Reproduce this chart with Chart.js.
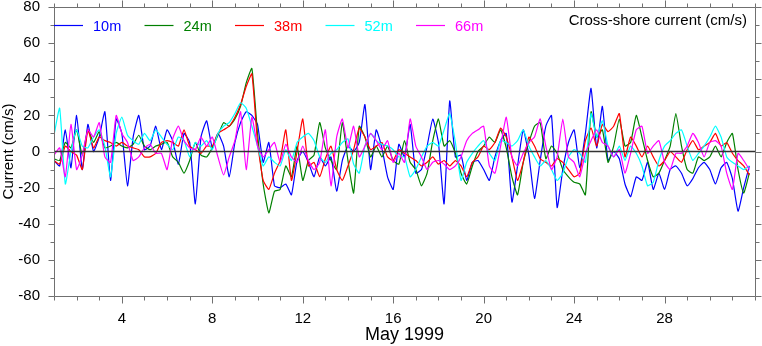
<!DOCTYPE html>
<html><head><meta charset="utf-8">
<script src="https://cdn.jsdelivr.net/npm/chart.js@4"></script>
<style>html,body{margin:0;padding:0;background:#fff}#wrap{width:762px;height:346px}</style>
</head><body><div id="wrap"><canvas id="c" width="762" height="346"></canvas></div>
<script>
// ---- data (cm/s), sampled every 6 hours starting 1 May 1999 00:00 ----
const startDay = 1;
const samplesPerDay = 4;
const seriesLabels = ['10m', '24m', '38m', '52m', '66m'];
const seriesColors = ['#0000ff', '#008000', '#ff0000', '#00ffff', '#ff00ff'];
const current10m = [-5,-8,12,-9, 20,-10,15,0, 8,22,-16,18, 10,-19,8,20, 1,3,14,1, 12,6,-7,10, 5,-29,8,17, 2,10,3,-14, 5,16,22,20, 15,-6,5,-19, -20,-18,-24,-5, 0,-6,-14,-3, -8,-3,-22,-5, 3,0,5,26, -10,12,2,-14, -21,4,-3,15, -12,-10,3,18, 5,-29,28,-3, -2,-16,-6,-5, -10,-16,-3,6, 10,-28,-8,12, -2,-26,-5,14, 20,-31,-10,5, 12,-9,10,35, 2,25,-5,0, -4,-18,-25,-14, -16,-6,-21,-12, -21,-10,-8,-12, -19,-15,-9,-6, -10,-18,-9,-6, -15,-33,-20,-8];
const current24m = [-4,-5,5,2, 12,-2,12,5, 11,2,3,5, 3,2,4,9, 3,1,3,4, 5,-3,-6,-12, -5,5,-2,-3, 2,9,16,14, 18,25,38,46, 10,-18,-34,-22, -21,-8,-14,3, -16,-5,-2,16, 2,-5,-10,16, -5,-23,14,8, -3,3,-3,3, -5,-7,6,-6, -10,-19,-12,6, 18,3,6,-1, -12,-18,-8,0, 3,8,5,12, 2,-14,-24,-6, 5,14,16,-4, 3,-1,-10,-14, -17,-18,-24,22, 8,12,-6,3, 18,3,5,20, 8,-5,-14,-12, -5,3,21,3, -10,-12,-3,-5, -3,3,-3,5, 10,-10,-23,-12];
const current38m = [-5,-7,3,0, -2,-10,12,2, 8,6,5,3, 5,3,2,1, -3,-3,-1,5, 6,5,3,12, 3,1,-1,3, 3,10,12,14, 19,26,36,43, 5,-16,-21,-12, -5,12,-16,0, 18,-8,-6,-14, -4,3,-10,-16, -8,1,13,8, 1,3,5,-3, -5,1,-1,-3, -5,-8,-6,-3, -7,-5,-8,-5, -8,-14,-6,-3, 3,1,5,13, 8,-3,-16,-6, 8,3,-4,-6, -8,-4,-6,-10, -14,-12,6,13, 3,15,11,14, 21,-3,8,3, -3,3,-3,-8, -5,0,-3,-6, 1,6,1,3, 5,10,3,5, -1,-5,-8,-13];
const current52m = [9,24,-18,0, 12,3,2,8, 12,3,-14,10, 19,9,6,4, 10,6,12,8, 4,1,8,6, -3,5,3,6, 1,10,14,16, 21,27,24,14, 3,-8,-3,-6, -8,1,-5,5, 8,10,6,-3, -6,-1,1,5, 7,-7,-12,3, 10,6,4,3, 1,-3,-3,-14, -10,-3,3,5, 3,12,21,5, -16,-6,-1,3, 6,-1,-5,6, 5,3,6,12, 3,-3,-8,-5, -10,-16,-12,-3, 1,-1,-6,21, 8,17,3,-3, 3,-5,3,-1, -8,-19,-17,-5, 3,6,10,12, 3,-5,-1,3, 8,14,8,-3, -6,-8,-10,-8];
const current66m = [-2,2,-14,15, -10,-2,12,8, 16,-3,-6,20, 10,5,-5,-3, 2,4,-1,-1, -10,7,14,6, 2,1,8,3, 8,-3,-13,-3, 6,22,-10,19, 3,-3,1,5, -6,4,-3,-6, 3,-5,-10,-6, 12,-19,8,18, 2,14,-3,3, 10,6,1,6, -6,-1,-6,18, 3,-3,-10,-6, -5,-7,-10,-8, -3,6,10,12, 14,-8,-12,3, 19,-3,-8,-1, 5,8,18,3, -10,-3,18,-3, -6,-14,-1,6, 12,5,3,-3, 1,-12,-1,12, 14,-1,3,6, -6,-10,-1,-1, 3,10,5,-3, 5,6,3,-12, -21,-1,-5,-10];
const xTickLabels = [4, 8, 12, 16, 20, 24, 28];
const yTickLabels = [-80, -60, -40, -20, 0, 20, 40, 60, 80];
const xTitle = 'May 1999';
const yTitle = 'Current (cm/s)';
const panelTitle = 'Cross-shore current (cm/s)';

const FONT = "'Liberation Sans', Arial, Helvetica, sans-serif";
const allSeries = [current10m, current24m, current38m, current52m, current66m];
const datasets = allSeries.map((vals, i) => ({
  label: seriesLabels[i],
  data: vals.map((v, k) => ({ x: startDay + k / samplesPerDay, y: v })),
  borderColor: seriesColors[i],
  backgroundColor: seriesColors[i],
  borderWidth: 1.2,
  pointRadius: 0,
  tension: 0.15,
  fill: false,
  order: allSeries.length - i
}));

const AXIS = '#707070';
const framePlugin = {
  id: 'frame',
  afterDatasetsDraw(chart) {
    const { ctx, chartArea: a, scales: { x, y } } = chart;
    ctx.save();
    // zero line
    const y0 = y.getPixelForValue(0);
    ctx.strokeStyle = '#333';
    ctx.lineWidth = 1.5;
    ctx.beginPath(); ctx.moveTo(a.left, y0); ctx.lineTo(a.right, y0); ctx.stroke();
    // frame
    ctx.strokeStyle = AXIS;
    ctx.lineWidth = 1;
    const L = Math.round(a.left) + 0.5, R = Math.round(a.right) + 0.5;
    const T = Math.round(a.top) + 0.5, B = Math.round(a.bottom) + 0.5;
    ctx.beginPath();
    ctx.moveTo(L, T); ctx.lineTo(R, T); ctx.lineTo(R, B); ctx.lineTo(L, B); ctx.closePath();
    // x ticks
    x.ticks.forEach(t => {
      const px = Math.round(x.getPixelForValue(t.value)) + 0.5;
      const len = xTickLabels.includes(t.value) ? 7 : 4;
      ctx.moveTo(px, B); ctx.lineTo(px, B + len);
      ctx.moveTo(px, T); ctx.lineTo(px, T - len);
    });
    // y ticks
    y.ticks.forEach(t => {
      const py = Math.round(y.getPixelForValue(t.value)) + 0.5;
      const len = yTickLabels.includes(t.value) ? 6 : 4;
      ctx.moveTo(L, py); ctx.lineTo(L - len, py);
      ctx.moveTo(R, py); ctx.lineTo(R + len, py);
    });
    ctx.stroke();
    // legend
    ctx.font = '14.5px ' + FONT;
    ctx.textBaseline = 'middle';
    ctx.textAlign = 'left';
    chart.data.datasets.forEach((ds, i) => {
      const x0 = a.left + i * 90.5;
      const ly = a.top + 18.5;
      ctx.strokeStyle = ds.borderColor;
      ctx.lineWidth = 1.2;
      ctx.beginPath(); ctx.moveTo(x0, ly); ctx.lineTo(x0 + 29, ly); ctx.stroke();
      ctx.fillStyle = ds.borderColor;
      ctx.fillText(ds.label, x0 + 39, ly + 1);
    });
    // panel title
    ctx.font = '15px ' + FONT;
    ctx.fillStyle = '#000';
    ctx.textAlign = 'right';
    ctx.fillText(panelTitle, a.right - 8, a.top + 14);
    ctx.restore();
  }
};

new Chart(document.getElementById('c'), {
  type: 'line',
  data: { datasets },
  options: {
    responsive: false,
    devicePixelRatio: 1,
    animation: false,
    layout: { padding: { left: 0, right: 7, top: 7, bottom: 0 } },
    plugins: { legend: { display: false }, tooltip: { enabled: false } },
    scales: {
      x: {
        type: 'linear', min: 1, max: 32,
        grid: { display: false, drawTicks: false },
        border: { display: false },
        ticks: {
          stepSize: 1, autoSkip: false, maxRotation: 0, padding: 14,
          color: '#000', font: { family: FONT, size: 15 },
          callback: v => xTickLabels.includes(v) ? String(v) : ''
        },
        title: { display: true, text: xTitle, color: '#000', font: { family: FONT, size: 18 }, padding: { top: 0, bottom: 0 } },
        afterFit: s => { s.height = 50; s.paddingLeft = 0; s.paddingRight = 0; }
      },
      y: {
        min: -80, max: 80,
        grid: { display: false, drawTicks: false },
        border: { display: false },
        ticks: {
          stepSize: 10, autoSkip: false, padding: 14,
          color: '#000', font: { family: FONT, size: 15 },
          callback: v => yTickLabels.includes(v) ? String(v) : ''
        },
        title: { display: true, text: yTitle, color: '#000', font: { family: FONT, size: 15 }, padding: { top: 0, bottom: 0 } },
        afterFit: s => { s.width = 54; s.paddingTop = 0; s.paddingBottom = 0; }
      }
    }
  },
  plugins: [framePlugin]
});
</script>
</body></html>
